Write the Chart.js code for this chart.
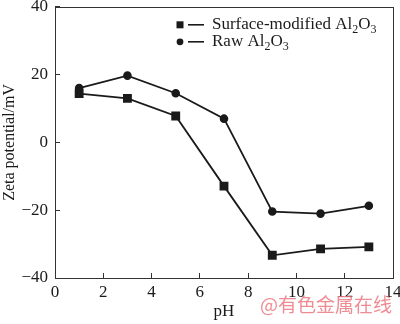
<!DOCTYPE html>
<html>
<head>
<meta charset="utf-8">
<script src="https://cdn.jsdelivr.net/npm/chart.js@4"></script>
<style>
    body { margin: 0; background: #fff; }
    #wrap { width: 400px; height: 324px; }
</style>
</head>
<body>
<div id="wrap"><canvas id="myChart" width="400" height="324"></canvas></div>
<script>
// pH values and zeta potentials
const phValues = [1, 3, 5, 7, 9, 11, 13];
const surfaceModified = [14.4, 13.0, 7.8, -12.9, -33.3, -31.4, -30.8];
const rawAlumina = [16.0, 19.7, 14.5, 7.0, -20.4, -21.0, -18.7];
const seriesLabels = ['Surface-modified Al₂O₃', 'Raw Al₂O₃'];
const xTicks = [0, 2, 4, 6, 8, 10, 12, 14];
const yTicks = [-40, -20, 0, 20, 40];

const serif = "'Liberation Serif', 'Times New Roman', serif";
const ink = '#1a1a1a';

function toPoints(values) {
    return phValues.map((x, i) => ({ x: x, y: values[i] }));
}

// draws text where unicode subscript digits are set smaller and lower
function drawRichText(ctx, text, x, y, size) {
    const subs = '₀₁₂₃₄₅₆₇₈₉';
    let cx = x;
    for (const ch of text) {
        const k = subs.indexOf(ch);
        if (k >= 0) {
            ctx.font = Math.round(size * 0.68) + 'px ' + serif;
            ctx.fillText(String(k), cx, y + size * 0.28);
            cx += ctx.measureText(String(k)).width;
        } else {
            ctx.font = size + 'px ' + serif;
            ctx.fillText(ch, cx, y);
            cx += ctx.measureText(ch).width;
        }
    }
}

const framePlugin = {
    id: 'frame',
    afterDraw(chart) {
        const ctx = chart.ctx;
        const a = chart.chartArea;
        ctx.save();
        ctx.strokeStyle = '#333';
        ctx.lineWidth = 1;
        ctx.strokeRect(Math.round(a.left) + 0.5, Math.round(a.top) + 0.5,
            Math.round(a.right - a.left), Math.round(a.bottom - a.top));

        // legend with subscripts
        const lx = a.left + 125;
        chart.data.datasets.forEach((ds, i) => {
            const ly = a.top + 18 + i * 17;
            ctx.fillStyle = ink;
            ctx.strokeStyle = ink;
            if (ds.pointStyle === 'rect') {
                ctx.fillRect(lx - 3.5, ly - 3.5, 7, 7);
            } else {
                ctx.beginPath();
                ctx.arc(lx, ly, 3.4, 0, Math.PI * 2);
                ctx.fill();
            }
            ctx.lineWidth = 1.6;
            ctx.beginPath();
            ctx.moveTo(lx + 8, ly);
            ctx.lineTo(lx + 24, ly);
            ctx.stroke();
            ctx.textBaseline = 'middle';
            ctx.textAlign = 'left';
            drawRichText(ctx, ds.label, lx + 32, ly, 17);
        });

        // source watermark
        ctx.fillStyle = 'rgba(236, 120, 128, 0.85)';
        ctx.font = "19px 'Noto Sans CJK SC', sans-serif";
        ctx.textAlign = 'right';
        ctx.textBaseline = 'middle';
        ctx.fillText('@有色金属在线', 392, 305);
        ctx.restore();
    }
};

const chart = new Chart(document.getElementById('myChart'), {
    type: 'line',
    data: {
        datasets: [
            {
                label: seriesLabels[0],
                data: toPoints(surfaceModified),
                borderColor: ink,
                backgroundColor: ink,
                borderWidth: 1.8,
                pointStyle: 'rect',
                pointRadius: 5,
                tension: 0
            },
            {
                label: seriesLabels[1],
                data: toPoints(rawAlumina),
                borderColor: ink,
                backgroundColor: ink,
                borderWidth: 1.8,
                pointStyle: 'circle',
                pointRadius: 3.4,
                tension: 0
            }
        ]
    },
    options: {
        responsive: false,
        animation: false,
        layout: {
            padding: { top: 6, right: 7, left: 0, bottom: 0 }
        },
        plugins: {
            legend: { display: false },
            tooltip: { enabled: false }
        },
        scales: {
            x: {
                type: 'linear',
                min: 0,
                max: 14,
                afterFit: function (scale) {
                    scale.height = 46;
                    scale.paddingLeft = 0;
                    scale.paddingRight = 0;
                },
                afterBuildTicks: function (scale) {
                    scale.ticks = xTicks.map(v => ({ value: v }));
                },
                grid: {
                    drawOnChartArea: false,
                    color: '#333',
                    tickLength: -5
                },
                border: { color: '#333', width: 1 },
                ticks: {
                    color: ink,
                    padding: 9,
                    maxRotation: 0,
                    font: { family: serif, size: 17 }
                },
                title: {
                    display: true,
                    text: 'pH',
                    color: ink,
                    padding: { top: 0, bottom: 2 },
                    font: { family: serif, size: 17 }
                }
            },
            y: {
                min: -40,
                max: 40,
                afterFit: function (scale) {
                    scale.width = 55;
                    scale.paddingTop = 0;
                    scale.paddingBottom = 0;
                },
                afterBuildTicks: function (scale) {
                    scale.ticks = yTicks.map(v => ({ value: v }));
                },
                grid: {
                    drawOnChartArea: false,
                    color: '#333',
                    tickLength: -5
                },
                border: { color: '#333', width: 1 },
                ticks: {
                    color: ink,
                    padding: 12,
                    font: { family: serif, size: 17 },
                    callback: function (value) {
                        return String(value).replace('-', '\u2212');
                    }
                },
                title: {
                    display: true,
                    text: 'Zeta potential/mV',
                    color: ink,
                    padding: { top: 0, bottom: 0 },
                    font: { family: serif, size: 16 }
                }
            }
        }
    },
    plugins: [framePlugin]
});
</script>
</body>
</html>
